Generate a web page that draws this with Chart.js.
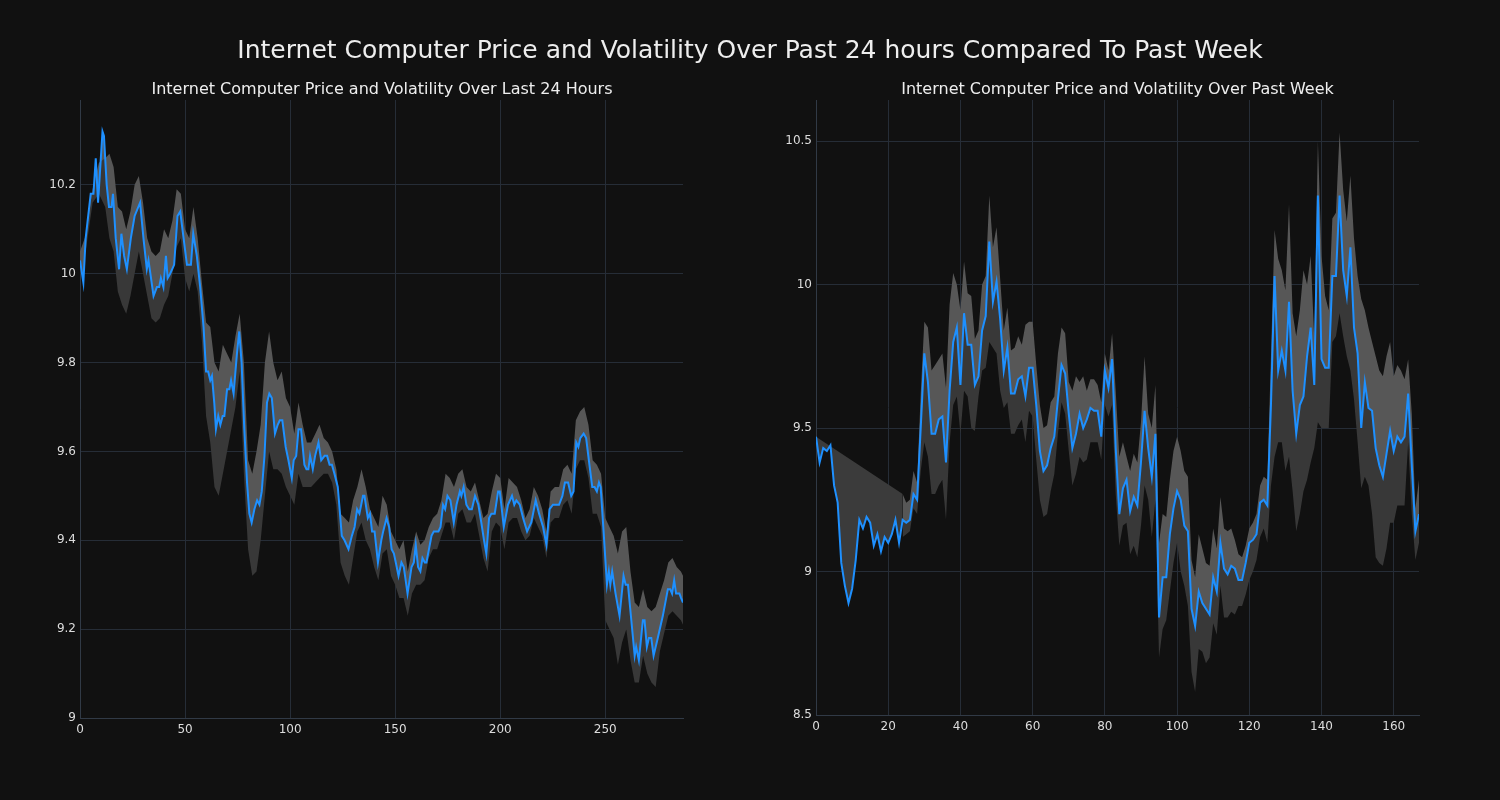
<!DOCTYPE html>
<html><head><meta charset="utf-8">
<script src="https://cdn.jsdelivr.net/npm/chart.js@4.4.1/dist/chart.umd.min.js"></script>
<style>
html,body{margin:0;padding:0;background:#111111;}
#wrap{position:relative;width:1500px;height:800px;background:#111111;overflow:hidden;}
.t{position:absolute;text-align:center;color:#eeeeee;font-family:"DejaVu Sans";white-space:nowrap;}
#title{left:0;top:33px;width:1500px;font-size:25px;line-height:34px;}
#st1{left:81px;width:602px;top:79px;font-size:16px;line-height:20px;}
#st2{left:816px;width:603px;top:79px;font-size:16px;line-height:20px;}
#c1{position:absolute;left:0;top:0;width:740px;height:800px;}
#c2{position:absolute;left:740px;top:0;width:760px;height:800px;}
</style></head>
<body><div id="wrap">
<canvas id="c1" width="740" height="800"></canvas>
<canvas id="c2" width="760" height="800"></canvas>
<div id="title" class="t">Internet Computer Price and Volatility Over Past 24 hours Compared To Past Week</div>
<div id="st1" class="t">Internet Computer Price and Volatility Over Last 24 Hours</div>
<div id="st2" class="t">Internet Computer Price and Volatility Over Past Week</div>
</div>
<script>
// ---------- Last 24 hours (5-minute steps) ----------
const dayX = [0,1.6,2.7,5.1,6.4,7.5,8.6,10.7,11.4,12.7,13.8,15,15.7,17,18.6,19.7,21,22.3,24.2,26,28.6,30.2,31.8,32.6,35,36.6,37.7,38.5,39.7,40.9,41.7,42.9,44.8,46.4,47.7,49.3,50.9,52.8,53.9,55.6,57.2,58.8,60,61,62,62.8,63.9,64.7,65.8,66.8,67.9,68.7,70,71.1,71.9,73.1,74.7,75.8,76.9,78.2,79.5,80.6,81.7,83,84.3,85.4,86.5,87.8,89,90.1,91.3,92.8,94.1,95.1,96.3,97.9,99.2,100.8,101.7,102.9,104,105.2,106.8,107.8,108.7,109.5,110.8,111.9,113.5,114.8,116.4,117.6,118.8,119.9,121.1,122.7,124.6,125.9,127.8,129.4,130.7,131.9,133,134.7,135.4,137,138,139,140.2,141.8,143.4,144.3,145.9,147.1,148.3,149.4,150.3,151.6,153,154.1,155.9,157.8,158.9,159.8,160.9,162,163,164.1,164.9,167.3,168.4,169.7,170.6,171.6,172.8,173.8,174.9,176.3,177.9,179.2,180.8,181.5,182.6,183.9,185.2,186.5,188,189.6,191,192.3,193.4,194.7,195.8,197.4,199,199.8,201.7,203.7,205.6,206.7,207.7,209.3,210.9,212.8,214.8,216.9,218.5,220.4,222,223.5,225.1,226.7,228,229.6,230.8,232.3,233.8,234.9,236.2,237.2,238.1,239.7,240.9,242.2,243.8,244.9,246,247,247.8,249.2,250.8,251.7,252.4,253.3,254.9,256.8,258.7,259.7,260.8,262.4,264,264.7,266,267.9,268.7,269.8,270.8,271.9,273,275,277.4,279.8,280.9,281.8,282.8,283.7,285.3,286.1,287];
const dayPrice = [10.03,9.98,10.08,10.18,10.18,10.26,10.16,10.32,10.31,10.2,10.15,10.15,10.18,10.08,10.01,10.09,10.04,10.01,10.08,10.13,10.16,10.08,10.01,10.03,9.95,9.97,9.97,9.99,9.97,10.04,9.99,10.0,10.02,10.13,10.14,10.08,10.02,10.02,10.09,10.04,9.97,9.88,9.78,9.78,9.76,9.77,9.71,9.65,9.68,9.66,9.68,9.68,9.74,9.74,9.76,9.73,9.82,9.87,9.80,9.65,9.53,9.46,9.44,9.47,9.49,9.48,9.51,9.59,9.71,9.73,9.72,9.64,9.66,9.67,9.67,9.61,9.58,9.54,9.58,9.59,9.65,9.65,9.57,9.56,9.56,9.59,9.56,9.59,9.62,9.58,9.59,9.59,9.57,9.57,9.55,9.52,9.41,9.40,9.38,9.41,9.43,9.47,9.46,9.50,9.50,9.45,9.46,9.42,9.42,9.35,9.40,9.42,9.45,9.43,9.38,9.37,9.35,9.32,9.35,9.34,9.28,9.34,9.35,9.39,9.34,9.33,9.36,9.35,9.35,9.41,9.42,9.42,9.42,9.43,9.48,9.47,9.50,9.49,9.44,9.48,9.51,9.50,9.52,9.48,9.47,9.47,9.50,9.48,9.44,9.40,9.37,9.45,9.46,9.46,9.51,9.51,9.43,9.48,9.50,9.48,9.49,9.48,9.45,9.42,9.44,9.49,9.46,9.43,9.39,9.47,9.48,9.48,9.48,9.50,9.53,9.53,9.50,9.51,9.62,9.61,9.63,9.64,9.63,9.58,9.52,9.52,9.51,9.53,9.52,9.42,9.30,9.33,9.30,9.33,9.28,9.23,9.32,9.30,9.30,9.22,9.14,9.16,9.13,9.22,9.22,9.16,9.18,9.18,9.14,9.18,9.23,9.29,9.29,9.28,9.31,9.28,9.28,9.27,9.26];
const dayBandX = [0,3,6,9,12,14,16,18,20,22,24,26,28,30,32,34,36,38,40,42,44,46,48,50,52,54,56,58,60,62,64,66,68,70,72,74,76,78,80,82,84,86,88,90,92,94,96,98,100,102,104,106,108,110,112,114,116,118,120,122,124,126,128,130,132,134,136,138,140,142,144,146,148,150,152,154,156,158,160,162,164,166,168,170,172,174,176,178,180,182,184,186,188,190,192,194,196,198,200,202,204,206,208,210,212,214,216,218,220,222,224,226,228,230,232,234,236,238,240,242,244,246,248,250,252,254,256,258,260,262,264,266,268,270,272,274,276,278,280,282,284,286,287];
const dayUpper = [10.05,10.09,10.19,10.25,10.26,10.27,10.24,10.15,10.14,10.10,10.14,10.20,10.22,10.16,10.08,10.05,10.04,10.05,10.10,10.08,10.12,10.19,10.18,10.10,10.08,10.15,10.08,9.98,9.89,9.88,9.80,9.78,9.84,9.82,9.80,9.86,9.91,9.80,9.58,9.55,9.60,9.66,9.80,9.87,9.80,9.76,9.78,9.72,9.70,9.64,9.71,9.66,9.62,9.62,9.64,9.66,9.63,9.62,9.60,9.56,9.46,9.45,9.44,9.49,9.52,9.56,9.52,9.47,9.45,9.43,9.50,9.48,9.42,9.40,9.38,9.40,9.33,9.38,9.42,9.39,9.40,9.43,9.45,9.46,9.49,9.55,9.54,9.52,9.55,9.56,9.52,9.51,9.53,9.49,9.45,9.46,9.51,9.55,9.54,9.47,9.54,9.53,9.52,9.49,9.45,9.47,9.52,9.50,9.47,9.42,9.51,9.52,9.52,9.56,9.57,9.55,9.67,9.69,9.70,9.66,9.58,9.57,9.55,9.45,9.43,9.41,9.37,9.42,9.43,9.33,9.26,9.25,9.29,9.25,9.24,9.25,9.28,9.31,9.35,9.36,9.34,9.33,9.32];
const dayLower = [10.00,10.06,10.16,10.18,10.15,10.08,10.05,9.96,9.93,9.91,9.95,10.00,10.05,10.00,9.95,9.90,9.89,9.90,9.93,9.95,10.00,10.06,10.08,9.99,9.96,10.00,9.96,9.85,9.68,9.62,9.52,9.50,9.55,9.60,9.65,9.70,9.78,9.55,9.38,9.32,9.33,9.40,9.50,9.60,9.56,9.56,9.55,9.52,9.50,9.48,9.55,9.52,9.52,9.52,9.53,9.54,9.55,9.55,9.53,9.48,9.35,9.32,9.30,9.36,9.42,9.44,9.40,9.38,9.34,9.31,9.37,9.38,9.32,9.30,9.27,9.27,9.23,9.28,9.30,9.30,9.31,9.36,9.38,9.38,9.41,9.44,9.44,9.40,9.46,9.47,9.44,9.44,9.46,9.41,9.36,9.33,9.42,9.44,9.43,9.38,9.44,9.45,9.45,9.42,9.40,9.41,9.45,9.43,9.41,9.36,9.44,9.45,9.45,9.48,9.49,9.46,9.56,9.58,9.58,9.54,9.46,9.46,9.43,9.22,9.20,9.18,9.12,9.17,9.20,9.13,9.08,9.08,9.14,9.10,9.08,9.07,9.15,9.19,9.23,9.24,9.23,9.22,9.21];
const dayXTicks = [0,50,100,150,200,250];
const dayYTicks = [9,9.2,9.4,9.6,9.8,10,10.2];

// ---------- Past week (hourly steps) ----------
const weekX = Array.from({length:168}, (_, i) => i);
const weekPrice = [
9.47,9.38,9.43,9.42,9.44,9.30,9.24,9.03,8.95,8.89,
8.94,9.04,9.18,9.15,9.19,9.17,9.09,9.13,9.07,9.12,
9.10,9.13,9.18,9.10,9.18,9.17,9.18,9.27,9.25,9.50,
9.76,9.66,9.48,9.48,9.53,9.54,9.38,9.63,9.80,9.85,
9.65,9.90,9.79,9.79,9.65,9.68,9.84,9.89,10.15,9.94,
10.01,9.88,9.70,9.78,9.62,9.62,9.67,9.68,9.61,9.71,
9.71,9.58,9.42,9.35,9.37,9.43,9.47,9.60,9.72,9.69,
9.55,9.43,9.48,9.55,9.50,9.53,9.57,9.56,9.56,9.47,
9.70,9.64,9.74,9.43,9.20,9.29,9.32,9.21,9.26,9.23,
9.38,9.56,9.43,9.33,9.48,8.84,8.98,8.98,9.13,9.22,
9.28,9.25,9.16,9.14,8.87,8.81,8.93,8.89,8.87,8.85,
8.98,8.93,9.10,9.01,8.99,9.02,9.01,8.97,8.97,9.03,
9.10,9.11,9.13,9.24,9.25,9.23,9.58,10.03,9.70,9.77,
9.70,9.94,9.63,9.48,9.58,9.61,9.75,9.85,9.65,10.31,
9.74,9.71,9.71,10.03,10.03,10.31,10.05,9.96,10.13,9.85,
9.76,9.50,9.66,9.57,9.56,9.43,9.37,9.33,9.41,9.49,
9.42,9.47,9.45,9.47,9.62,9.37,9.14,9.20];
const weekBandX = weekX.slice(24);
const weekUpper = [
9.27,9.24,9.25,9.35,9.31,9.62,
9.87,9.85,9.70,9.72,9.74,9.76,9.64,9.93,10.04,10.00,
9.91,10.08,9.97,9.96,9.81,9.84,10.00,10.03,10.31,10.13,
10.20,10.02,9.84,9.92,9.77,9.78,9.82,9.79,9.86,9.87,
9.87,9.72,9.58,9.50,9.51,9.59,9.61,9.76,9.85,9.83,
9.66,9.63,9.68,9.66,9.68,9.63,9.67,9.67,9.65,9.59,
9.76,9.70,9.83,9.63,9.40,9.45,9.40,9.35,9.41,9.38,
9.52,9.75,9.55,9.50,9.65,9.10,9.20,9.19,9.32,9.42,
9.47,9.42,9.35,9.33,9.04,8.98,9.13,9.08,9.03,9.02,
9.15,9.08,9.26,9.15,9.14,9.15,9.11,9.06,9.05,9.09,
9.15,9.17,9.20,9.30,9.33,9.32,9.75,10.19,10.09,10.05,
9.98,10.28,9.90,9.82,9.91,10.05,10.00,10.10,9.81,10.50,
10.10,9.96,9.91,10.23,10.25,10.53,10.33,10.22,10.38,10.16,
10.03,9.95,9.91,9.85,9.80,9.75,9.70,9.68,9.75,9.80,
9.68,9.72,9.70,9.67,9.74,9.55,9.22,9.32];
const weekLower = [
9.12,9.13,9.14,9.22,9.20,9.35,
9.45,9.40,9.27,9.27,9.30,9.32,9.18,9.45,9.58,9.61,
9.48,9.63,9.61,9.50,9.49,9.61,9.70,9.71,9.80,9.78,
9.76,9.63,9.57,9.59,9.48,9.48,9.51,9.53,9.45,9.56,
9.54,9.39,9.25,9.19,9.20,9.28,9.34,9.48,9.59,9.55,
9.42,9.30,9.34,9.40,9.38,9.39,9.45,9.45,9.45,9.39,
9.58,9.54,9.58,9.27,9.09,9.16,9.17,9.06,9.09,9.05,
9.16,9.30,9.25,9.12,9.25,8.70,8.80,8.83,8.93,9.03,
9.10,9.00,8.95,8.88,8.65,8.58,8.73,8.72,8.68,8.70,
8.82,8.78,8.95,8.84,8.84,8.86,8.85,8.88,8.88,8.92,
8.97,9.00,9.04,9.12,9.15,9.10,9.30,9.40,9.45,9.45,
9.35,9.40,9.28,9.14,9.20,9.28,9.32,9.38,9.43,9.52,
9.50,9.50,9.50,9.80,9.82,9.90,9.82,9.75,9.70,9.60,
9.45,9.29,9.33,9.30,9.20,9.05,9.03,9.02,9.08,9.17,
9.17,9.23,9.23,9.23,9.45,9.20,9.04,9.10];
const weekWarmX = [0,24];
const weekWarmTop = [9.47,9.27];
const weekXTicks = [0,20,40,60,80,100,120,140,160];
const weekYTicks = [8.5,9,9.5,10,10.5];

// ---------- styling ----------
const FONT = 'DejaVu Sans';
const GRID = '#262d37';
const SPINE = '#313a46';
const TICK = '#dddddd';
const LINE = '#1e90ff';
const LIGHT = '#575757';
const DARK = '#383838';

const pts = (xs, ys) => xs.map((x, i) => ({x: x, y: ys[i]}));
const fmt = v => String(Math.round(v * 10) / 10);

function build(id, cfg) {
  const datasets = [
    {data: pts(cfg.x, cfg.price), borderColor: LINE, borderWidth: 2, pointRadius: 0, fill: false, tension: 0},
    {data: pts(cfg.bandX, cfg.upper), borderWidth: 0, borderColor: 'rgba(0,0,0,0)', pointRadius: 0, fill: '-1', backgroundColor: LIGHT, tension: 0},
    {data: pts(cfg.bandX, cfg.lower), borderWidth: 0, borderColor: 'rgba(0,0,0,0)', pointRadius: 0, fill: '-2', backgroundColor: DARK, tension: 0}
  ];
  if (cfg.warmX) {
    datasets.push({data: pts(cfg.warmX, cfg.warmTop), borderWidth: 0, borderColor: 'rgba(0,0,0,0)', pointRadius: 0, fill: '-3', backgroundColor: '#3b3b3b', tension: 0});
  }
  return new Chart(document.getElementById(id), {
    type: 'line',
    data: {datasets: datasets},
    options: {
      responsive: false,
      animation: false,
      events: [],
      layout: {padding: cfg.pad},
      plugins: {
        legend: {display: false},
        tooltip: {enabled: false},
        title: {display: false}
      },
      scales: {
        x: {
          type: 'linear', min: cfg.xmin, max: cfg.xmax,
          grid: {color: GRID, drawTicks: false, lineWidth: 1},
          border: {display: true, color: SPINE, width: 1},
          ticks: {color: TICK, font: {family: FONT, size: 12}, padding: 5, maxRotation: 0, autoSkip: false, callback: v => String(v)},
          afterBuildTicks: s => { s.ticks = cfg.xTicks.map(v => ({value: v})); },
          afterFit: s => { s.height = 30; }
        },
        y: {
          type: 'linear', min: cfg.ymin, max: cfg.ymax,
          grid: {color: GRID, drawTicks: false, lineWidth: 1},
          border: {display: true, color: SPINE, width: 1},
          ticks: {color: TICK, font: {family: FONT, size: 12}, padding: 4, autoSkip: false, callback: v => fmt(v)},
          afterBuildTicks: s => { s.ticks = cfg.yTicks.map(v => ({value: v})); },
          afterFit: s => { s.width = cfg.yWidth; }
        }
      }
    }
  });
}

build('c1', {
  x: dayX, price: dayPrice, bandX: dayBandX, upper: dayUpper, lower: dayLower,
  xmin: 0, xmax: 287, ymin: 9, ymax: 10.391, xTicks: dayXTicks, yTicks: dayYTicks,
  yWidth: 80, pad: {left: 0, right: 57, top: 100, bottom: 52}
});
build('c2', {
  x: weekX, price: weekPrice, bandX: weekBandX, upper: weekUpper, lower: weekLower,
  warmX: weekWarmX, warmTop: weekWarmTop,
  xmin: 0, xmax: 167, ymin: 8.5, ymax: 10.643, xTicks: weekXTicks, yTicks: weekYTicks,
  yWidth: 76, pad: {left: 0, right: 81, top: 100, bottom: 55}
});
</script>
</body></html>
